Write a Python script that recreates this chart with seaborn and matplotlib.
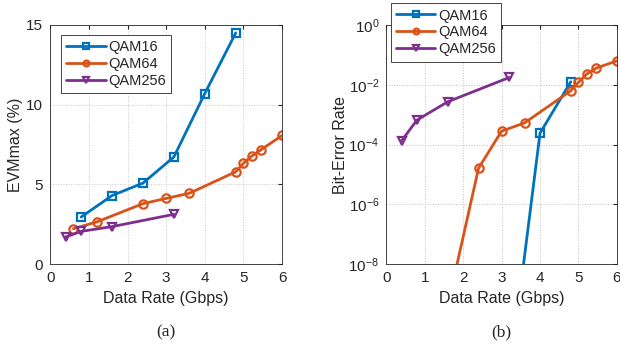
import numpy as np
import pandas as pd
import matplotlib
matplotlib.use("Agg")
import matplotlib.pyplot as plt
import seaborn as sns
from matplotlib.ticker import LogLocator, NullFormatter, FixedLocator

# ---- data ----
series = ["QAM16", "QAM64", "QAM256"]
colors = ["#0072BD", "#D95319", "#7E2F8E"]
markers = ["s", "o", "v"]

evm_x16 = [0.8, 1.6, 2.4, 3.2, 4.0, 4.8]
evm_y16 = [2.95, 4.3, 5.08, 6.72, 10.7, 14.5]
evm_x64 = [0.6, 1.2, 2.4, 3.0, 3.6, 4.8, 5.0, 5.22, 5.46, 6.0]
evm_y64 = [2.22, 2.64, 3.79, 4.12, 4.44, 5.79, 6.32, 6.78, 7.18, 8.07]
evm_x256 = [0.4, 0.8, 1.6, 3.2]
evm_y256 = [1.7, 2.05, 2.35, 3.12]

ber_x16 = [3.2, 4.0, 4.8]
ber_y16 = [1.6e-12, 2.4e-4, 1.26e-2]
ber_x64 = [1.2, 2.4, 3.0, 3.6, 4.8, 5.0, 5.22, 5.46, 6.0]
ber_y64 = [2.1e-12, 1.6e-5, 2.8e-4, 5.3e-4, 6.3e-3, 1.2e-2, 2.3e-2, 3.6e-2, 6.3e-2]
ber_x256 = [0.4, 0.8, 1.6, 3.2]
ber_y256 = [1.35e-4, 6.6e-4, 2.7e-3, 1.75e-2]

x_ticks = [0, 1, 2, 3, 4, 5, 6]
evm_ticks = [0, 5, 10, 15]
ber_ticks = [1e-8, 1e-6, 1e-4, 1e-2, 1e0]
ber_ticklabels = ["10$^{-8}$", "10$^{-6}$", "10$^{-4}$", "10$^{-2}$", "10$^{0}$"]

sns.set_style("white")
plt.rcParams["font.family"] = ["Liberation Sans", "DejaVu Sans"]
plt.rcParams["mathtext.fontset"] = "custom"
plt.rcParams["mathtext.rm"] = "Liberation Sans"
plt.rcParams["mathtext.it"] = "Liberation Sans"

fig = plt.figure(figsize=(6.2, 3.47), dpi=100)
ax1 = fig.add_axes([0.081, 0.239, 0.374, 0.689])
ax2 = fig.add_axes([0.623, 0.239, 0.372, 0.689])

def draw(ax, xs, ys):
    for name, c, m, x, y in zip(series, colors, markers, xs, ys):
        df = pd.DataFrame({"x": x, "y": y})
        sns.lineplot(data=df, x="x", y="y", ax=ax, color=c, marker=m,
                     markersize=6, markerfacecolor="none", markeredgecolor=c,
                     markeredgewidth=1.6, linewidth=2, label=name, clip_on=True)

draw(ax1, [evm_x16, evm_x64, evm_x256], [evm_y16, evm_y64, evm_y256])
draw(ax2, [ber_x16, ber_x64, ber_x256], [ber_y16, ber_y64, ber_y256])

for ax in (ax1, ax2):
    ax.set_xlim(0, 6)
    ax.set_xticks(x_ticks)
    ax.set_xlabel("Data Rate (Gbps)", fontsize=11.5, labelpad=4)
    ax.tick_params(direction="in", length=3, labelsize=11, top=True, right=True,
                   pad=5, colors="#262626")
    for s in ax.spines.values():
        s.set_color("#262626")
        s.set_linewidth(0.6)

ax1.set_ylim(0, 15)
ax1.set_yticks(evm_ticks)
ax1.set_ylabel("EVMmax (%)", fontsize=11.5, labelpad=2)
ax1.grid(True, which="major", linestyle=":", color="#c8c8c8", linewidth=0.7)

ax2.set_yscale("log")
ax2.set_ylim(1e-8, 1)
ax2.yaxis.set_major_locator(FixedLocator(ber_ticks))
ax2.set_yticklabels(ber_ticklabels)
ax2.yaxis.set_minor_locator(LogLocator(base=10, subs=np.arange(2, 10)))
ax2.yaxis.set_minor_formatter(NullFormatter())
ax2.tick_params(axis="y", which="minor", direction="in", length=1.5, right=True)
ax2.set_ylabel("Bit-Error Rate", fontsize=11.5, labelpad=0)
ax2.grid(True, which="major", linestyle=":", color="#c0c0c0", linewidth=0.7)
ax2.grid(True, which="minor", axis="y", linestyle=":", color="#d8d8d8", linewidth=0.6)

leg_kw = dict(loc="upper left", fontsize=10.5, frameon=True, fancybox=False,
              edgecolor="#262626", handlelength=2.7, borderpad=0.35,
              labelspacing=0.2, handletextpad=0.2, borderaxespad=0,
              framealpha=1, markerscale=0.7)
leg1 = ax1.legend(bbox_to_anchor=(0.047, 0.958), **leg_kw)
leg1.get_frame().set_linewidth(0.6)
leg2 = ax2.legend(bbox_to_anchor=(0.02, 1.09), **leg_kw)
leg2.get_frame().set_linewidth(0.6)

fig.text(0.268, 0.043, "(a)", family=["Liberation Serif"], fontsize=12.5,
         ha="center", va="center")
fig.text(0.808, 0.043, "(b)", family=["Liberation Serif"], fontsize=12.5,
         ha="center", va="center")

fig.savefig("out.png", dpi=100)
